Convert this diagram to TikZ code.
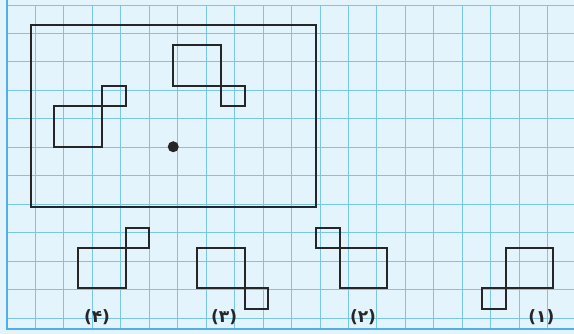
\documentclass[tikz,border=0pt]{standalone}
\usepackage{fontspec}
\newfontfamily\fafont{DejaVu Sans}
\definecolor{paper}{RGB}{228,244,252}
\definecolor{gridblue}{RGB}{120,198,236}
\definecolor{edgeblue}{RGB}{80,175,232}
\definecolor{ink}{RGB}{38,38,38}
\tikzset{
    gridline/.style = {draw=gridblue,
                    line width=0.9pt},
    edgeline/.style = {draw=edgeblue,
                    line width=2.6pt},
    outline/.style = {draw=ink,
                    line width=2pt,
                    line join=miter},
    centre/.style = {circle,
                    fill=ink,
                    inner sep=0pt,
                    minimum size=11pt},
    tag/.style =    {text=ink,
                    inner sep=0pt,
                    font=\fafont\bfseries\fontsize{17}{17}\selectfont}
}
\begin{document}
\begin{tikzpicture}[x=23.75pt,y=-20.25pt]
    \useasboundingbox[fill=paper] (-0.2947,-0.2469) rectangle (23.874,16.247);
    \begin{scope}
        \clip (0,-0.2469) rectangle (23.874,16);
        \draw[gridline] (0,0) grid (24,16);
    \end{scope}
    \draw[edgeline] (0,-0.2469) -- (0,16) -- (23.874,16);
    % frame with the shape and the centre
    \draw[outline] (1,1) rectangle (13,10);
    \draw[outline] (2,5) rectangle (4,7) (4,4) rectangle (5,5);
    \draw[outline] (7,2) rectangle (9,4) (9,4) rectangle (10,5);
    \node[centre] (O) at (7,7) {};
    % choices
    \draw[outline] (3,12) rectangle (5,14) (5,11) rectangle (6,12);
    \draw[outline] (8,12) rectangle (10,14) (10,14) rectangle (11,15);
    \draw[outline] (14,12) rectangle (16,14) (13,11) rectangle (14,12);
    \draw[outline] (21,12) rectangle (23,14) (20,14) rectangle (21,15);
    \node[tag] (c4) at (3.79,15.4) {(۴)};
    \node[tag] (c3) at (9.14,15.4) {(۳)};
    \node[tag] (c2) at (14.99,15.4) {(۲)};
    \node[tag] (c1) at (22.5,15.4) {(۱)};
\end{tikzpicture}
\end{document}
